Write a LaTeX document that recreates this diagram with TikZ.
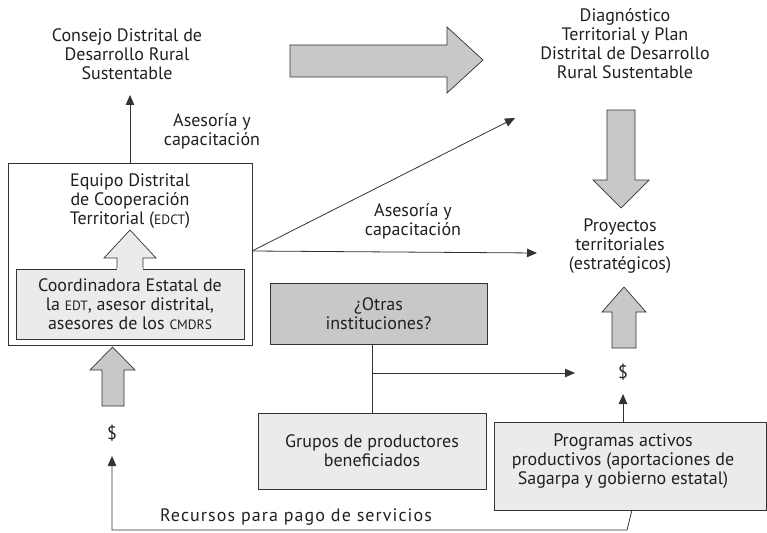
\documentclass[tikz,border=0pt]{standalone}
\usepackage{fontspec}
\setmainfont{PT Sans}
\usetikzlibrary{arrows.meta}
\definecolor{dk}{HTML}{C8C8C8}
\definecolor{lt}{HTML}{EBEBEB}
\definecolor{ln}{HTML}{333333}
\definecolor{tx}{HTML}{231F20}
\newcommand{\smc}[1]{{\fontsize{13.5}{14}\selectfont #1}}
\tikzset{
  txt/.style={align=center, inner sep=0pt, text=tx, font=\fontsize{18}{19}\selectfont},
  box/.style={draw=ln, line width=0.8pt},
  blk/.style={draw=ln, line width=0.7pt, fill=dk},
  con/.style={draw=ln, line width=0.8pt, -{Triangle[length=10pt,width=8.5pt]}},
  lin/.style={draw=ln, line width=0.8pt}
}
\begin{document}
\begin{tikzpicture}[x=1pt,y=-1pt]
\useasboundingbox (0,0) rectangle (767,532);
% boxes
\draw[box, fill=white] (8,163) rectangle (252,345);
\node[box, fill=lt, minimum width=228pt, minimum height=70pt, inner sep=0pt] (coord) at (130,304) {};
\node[box, fill=dk, minimum width=217pt, minimum height=61pt, inner sep=0pt] (otras) at (378.5,313.5) {};
\node[box, fill=lt, minimum width=228pt, minimum height=76pt, inner sep=0pt] (grupos) at (372,451) {};
\node[box, fill=lt, minimum width=272pt, minimum height=88pt, inner sep=0pt] (prog) at (630,466) {};
% texts
\node[txt] (consejo) at (127,54) {Consejo Distrital de\\Desarrollo Rural\\Sustentable};
\node[txt] (diag) at (625,44) {Diagnóstico\\Territorial y Plan\\Distrital de Desarrollo\\Rural Sustentable};
\node[txt] (ases1) at (212,131) {Asesoría y\\capacitación};
\node[txt] (ases2) at (413,221) {Asesoría y\\capacitación};
\node[txt] (edct) at (130,201) {Equipo Distrital\\de Cooperación\\Territorial (\smc{EDCT})};
\node[txt] at (coord) {Coordinadora Estatal de\\la \smc{EDT}, asesor distrital,\\asesores de los \smc{CMDRS}};
\node[txt] (proy) at (620,246) {Proyectos\\territoriales\\(estratégicos)};
\node[txt] at (otras) {¿Otras\\instituciones?};
\node[txt] at (grupos) {Grupos de productores\\beneficiados};
\node[txt] (progt) at (623,461) {Programas activos\\productivos (aportaciones de\\Sagarpa y gobierno estatal)};
\node[txt] (d1) at (112,433) {\$};
\node[txt] (d2) at (623,372) {\$};
\node[txt] (rec) at (296,517) {\addfontfeature{LetterSpace=6}Recursos para pago de servicios};
% block arrows
\draw[blk] (290,45)--(447,45)--(447,27)--(483,60)--(447,93)--(447,77)--(290,77)--cycle;
\draw[blk] (607,110)--(635,110)--(635,180)--(649,180)--(621,208)--(593,180)--(607,180)--cycle;
\draw[blk] (612,348)--(612,312)--(602,312)--(624,287)--(646,312)--(636,312)--(636,348)--cycle;
\draw[blk] (102,406)--(102,370)--(90,370)--(112.5,347)--(135,370)--(124,370)--(124,406)--cycle;
\draw[blk, fill=lt] (117,269)--(117,258)--(104,258)--(130,230)--(156,258)--(143,258)--(143,269);
\fill[lt] (117.4,268) rectangle (142.6,270);
% connectors
\coordinate (eR) at (252,251);
\coordinate (eT) at (130,163);
\coordinate (cT) at (130,95);
\coordinate (dT) at (515,118);
\coordinate (pT) at (537,253);
\coordinate (oJ) at (372,373);
\coordinate (oE) at (575,373);
\coordinate (pB) at (632,510);
\coordinate (bR) at (627,530);
\coordinate (bL) at (112,530);
\coordinate (dB) at (112,456);
\coordinate (gT) at (372,413);
\coordinate (oB) at (372,344);
\coordinate (prT) at (623,422);
\coordinate (prE) at (623,394);
\draw[con] (eT) -- (cT);
\draw[con] (eR) -- (dT);
\draw[con] (eR) -- (pT);
\draw[lin] (gT) -- (oB);
\draw[con] (oJ) -- (oE);
\draw[con] (prT) -- (prE);
\draw[con] (pB) -- (bR) -- (bL) -- (dB);
\end{tikzpicture}
\end{document}
